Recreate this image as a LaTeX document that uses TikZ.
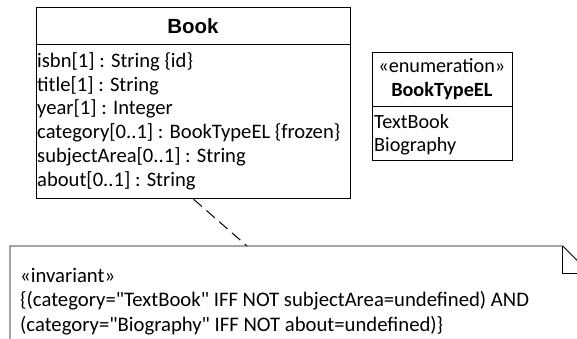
\documentclass[tikz,border=0pt]{standalone}
\usepackage{fontspec}
\setmainfont{Carlito}[Ligatures=TeXOff]
\newfontfamily\arialfont{Liberation Sans}
\begin{document}
\begin{tikzpicture}[x=1pt,y=-1pt,
  boxline/.style={draw=black, line width=1.3pt},
  thinline/.style={draw=black, line width=0.9pt},
  attr/.style={anchor=west, inner sep=0pt, font=\fontsize{20.6}{22}\selectfont},
  enumtxt/.style={inner sep=0pt, font=\fontsize{20.2}{22}\selectfont},
  notetxt/.style={anchor=west, inner sep=0pt, font=\fontsize{20.7}{22}\selectfont},
  dashline/.style={draw=black, line width=1pt, dash pattern=on 11pt off 6pt}]
\useasboundingbox (0,0) rectangle (577,338);
\clip (0,0) rectangle (577,338);
% Book class
\node[boxline, anchor=north west, minimum width=314pt, minimum height=191pt, inner sep=0pt] (book) at (36,7) {};
\coordinate (bsepL) at (36,44.7);
\coordinate (bsepR) at (350,44.7);
\draw[boxline] (bsepL) -- (bsepR);
\node[anchor=center, inner sep=0pt, font=\arialfont\bfseries\fontsize{20.5}{22}\selectfont] (booktitle) at (193,26) {Book};
\node[attr] (a1) at (37,62) {isbn[1] : String \{id\}};
\node[attr] (a2) at (37,85.5) {title[1] : String};
\node[attr] (a3) at (37,109) {year[1] : Integer};
\node[attr] (a4) at (37,132.5) {category[0..1] : BookTypeEL \{frozen\}};
\node[attr] (a5) at (37,156.5) {subjectArea[0..1] : String};
\node[attr] (a6) at (37,180.5) {about[0..1] : String};
% Enumeration
\node[thinline, anchor=north west, minimum width=139.7pt, minimum height=108pt, inner sep=0pt] (enum) at (372,52) {};
\coordinate (esepL) at (372,106);
\coordinate (esepR) at (511.7,106);
\draw[thinline] (esepL) -- (esepR);
\node[enumtxt] (st) at (441.8,66) {«enumeration»};
\node[enumtxt, font=\bfseries\fontsize{20.2}{22}\selectfont] (ename) at (441.8,91) {BookTypeEL};
\node[enumtxt, anchor=west] (l1) at (374,122) {TextBook};
\node[enumtxt, anchor=west] (l2) at (374,146.5) {Biography};
% Note
\draw[thinline] (10,340) -- (10,246) -- (562.7,246) -- (590,273.3) -- (590,340);
\draw[thinline] (562.7,246) -- (562.7,273.3) -- (590,273.3);
\coordinate (nt) at (247,246);
\node[notetxt] (n1) at (20,275) {«invariant»};
\node[notetxt] (n2) at (20,300.5) {\{(category="TextBook" IFF NOT subjectArea=undefined) AND};
\node[notetxt] (n3) at (20,326) {(category="Biography" IFF NOT about=undefined)\}};
% connector
\draw[dashline] (book.south) -- (nt);
\end{tikzpicture}
\end{document}
